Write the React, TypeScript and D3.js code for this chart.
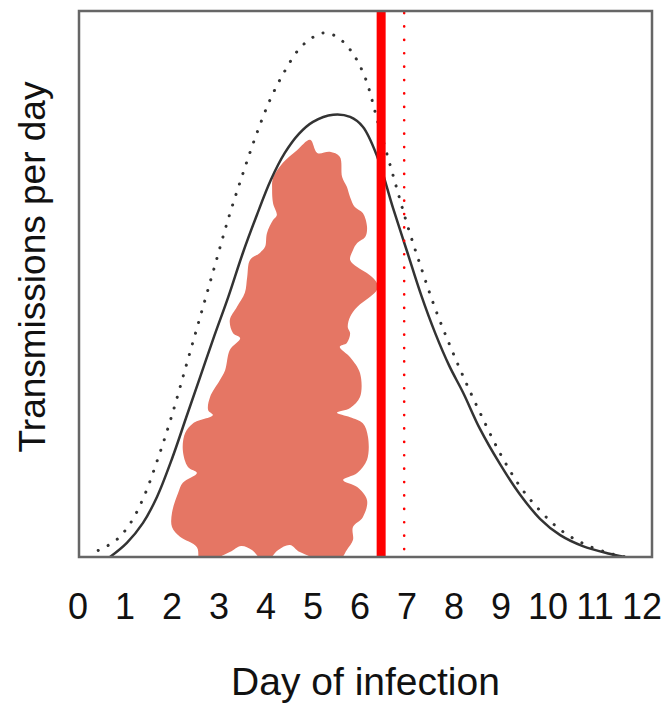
import React from "react";
import * as d3 from "d3";

// ---- data (day of infection, transmissions per day in relative units) ----
const tickLabels = ["0", "1", "2", "3", "4", "5", "6", "7", "8", "9", "10", "11", "12"];
const tickDays = [0, 1, 2, 3, 4, 5, 6, 7, 8, 9, 10, 11, 12];

const solidCurve: [number, number][] = [
  [0.68, 0], [1.04, 0.026], [1.38, 0.062], [1.68, 0.11], [2.0, 0.18], [2.3, 0.255],
  [2.6, 0.33], [2.9, 0.405], [3.2, 0.477], [3.5, 0.555], [3.8, 0.625], [4.1, 0.69],
  [4.4, 0.74], [4.7, 0.775], [5.0, 0.797], [5.43, 0.81], [5.79, 0.806], [6.06, 0.788],
  [6.36, 0.735], [6.7, 0.64], [7.0, 0.56], [7.3, 0.48], [7.6, 0.41], [7.9, 0.35],
  [8.2, 0.3], [8.55, 0.235], [8.98, 0.17], [9.4, 0.115], [9.83, 0.07], [10.26, 0.04],
  [10.74, 0.02], [11.26, 0.007], [11.64, 0],
];

const dottedCurve: [number, number][] = [
  [0.43, 0.012], [0.8, 0.03], [1.1, 0.06], [1.4, 0.11], [1.7, 0.18], [2.0, 0.26],
  [2.3, 0.35], [2.6, 0.44], [2.9, 0.53], [3.2, 0.62], [3.5, 0.7], [3.8, 0.775],
  [4.1, 0.84], [4.4, 0.89], [4.7, 0.93], [5.0, 0.952], [5.23, 0.96], [5.5, 0.953],
  [5.8, 0.928], [6.1, 0.88], [6.4, 0.79], [6.7, 0.7], [7.0, 0.61], [7.3, 0.53],
  [7.6, 0.455], [7.9, 0.39], [8.2, 0.33], [8.55, 0.265], [8.98, 0.19], [9.4, 0.13],
  [9.83, 0.085], [10.26, 0.05], [10.74, 0.025], [11.26, 0.008], [11.64, 0],
];

const blobOutline: [number, number][] = [
  [4.94, 0.764], [5.09, 0.74], [5.36, 0.742], [5.57, 0.733], [5.62, 0.696], [5.72, 0.678],
  [5.79, 0.659], [5.89, 0.641], [6.06, 0.63], [6.15, 0.604], [6.11, 0.586], [5.94, 0.575],
  [5.85, 0.562], [5.79, 0.544], [5.94, 0.531], [6.21, 0.516], [6.36, 0.502], [6.36, 0.489],
  [6.21, 0.476], [5.94, 0.458], [5.79, 0.44], [5.74, 0.421], [5.79, 0.41], [5.72, 0.392],
  [5.57, 0.385], [5.79, 0.366], [6.0, 0.337], [6.0, 0.293], [5.79, 0.273], [5.51, 0.264],
  [5.79, 0.256], [6.06, 0.245], [6.17, 0.22], [6.15, 0.178], [5.94, 0.154], [5.64, 0.141],
  [5.94, 0.128], [6.15, 0.104], [6.06, 0.073], [5.85, 0.055], [5.85, 0.031], [5.72, 0.013],
  [5.51, -0.01], [4.72, 0.009], [4.51, 0.022], [4.26, 0.013], [3.98, -0.01], [3.7, 0.013],
  [3.47, 0.02], [3.23, 0.009], [2.6, -0.01], [2.53, 0.018], [2.17, 0.037], [2.0, 0.055],
  [2.0, 0.081], [2.13, 0.117], [2.23, 0.136], [2.53, 0.154], [2.34, 0.165], [2.23, 0.196],
  [2.28, 0.227], [2.45, 0.245], [2.87, 0.26], [2.77, 0.269], [2.81, 0.293], [3.02, 0.324],
  [3.13, 0.342], [3.23, 0.379], [3.45, 0.401], [3.3, 0.41], [3.23, 0.434], [3.38, 0.458],
  [3.55, 0.484], [3.6, 0.513], [3.66, 0.544], [3.87, 0.557], [3.98, 0.568], [4.02, 0.593],
  [4.15, 0.617], [4.23, 0.626], [4.15, 0.648], [4.13, 0.672], [4.15, 0.694], [4.36, 0.722],
  [4.66, 0.745],
];

const thickMarkerDay = [6.45];
const dottedMarkerDay = [6.94];

const xLabel = "Day of infection";
const yLabel = "Transmissions per day";

// ---- layout ----
const W = 665;
const H = 705;
const frame = { left: 79, top: 11, right: 652, bottom: 557 };

export default function App() {
  const x = d3.scaleLinear().domain([0, 12]).range([78, 642]);
  const y = d3.scaleLinear().domain([0, 1]).range([557, 11]);

  const line = d3
    .line<[number, number]>()
    .x((d) => x(d[0]))
    .y((d) => y(d[1]))
    .curve(d3.curveCatmullRom.alpha(0.5));

  const blob = d3
    .line<[number, number]>()
    .x((d) => x(d[0]))
    .y((d) => y(d[1]))
    .curve(d3.curveCatmullRomClosed.alpha(0.5));

  const font = "'Liberation Sans', Arial, Helvetica, sans-serif";

  return (
    <svg
      width={W}
      height={H}
      style={{ position: "absolute", left: 0, top: 0, background: "#fff" }}
      fontFamily={font}
    >
      <defs>
        <clipPath id="plotClip">
          <rect
            x={frame.left}
            y={frame.top}
            width={frame.right - frame.left}
            height={frame.bottom - frame.top}
          />
        </clipPath>
      </defs>
      <rect width={W} height={H} fill="#fff" />
      <g clipPath="url(#plotClip)">
        <path d={blob(blobOutline) || ""} fill="#e57664" stroke="none" />
        <path
          d={line(dottedCurve) || ""}
          fill="none"
          stroke="#333"
          strokeWidth={3}
          strokeDasharray="0.1 11"
          strokeLinecap="round"
        />
        <path d={line(solidCurve) || ""} fill="none" stroke="#333" strokeWidth={2.5} />
        {thickMarkerDay.map((d, i) => (
          <line key={"t" + i} x1={x(d)} x2={x(d)} y1={frame.top} y2={frame.bottom} stroke="#ff0000" strokeWidth={9} />
        ))}
        {dottedMarkerDay.map((d, i) => (
          <line
            key={"d" + i}
            x1={x(d)}
            x2={x(d)}
            y1={frame.top + 2}
            y2={frame.bottom}
            stroke="#ff0000"
            strokeWidth={2.6}
            strokeDasharray="0.1 13.3"
            strokeLinecap="round"
          />
        ))}
      </g>
      <rect
        x={frame.left}
        y={frame.top}
        width={frame.right - frame.left}
        height={frame.bottom - frame.top}
        fill="none"
        stroke="#666"
        strokeWidth={2.5}
      />
      {tickDays.map((d, i) => (
        <text key={i} x={x(d)} y={619} textAnchor="middle" fontSize={36} fill="#111">
          {tickLabels[i]}
        </text>
      ))}
      <text x={365.5} y={695} textAnchor="middle" fontSize={39} fill="#111">
        {xLabel}
      </text>
      <text transform="translate(45,267) rotate(-90)" textAnchor="middle" fontSize={37} fill="#111">
        {yLabel}
      </text>
    </svg>
  );
}
